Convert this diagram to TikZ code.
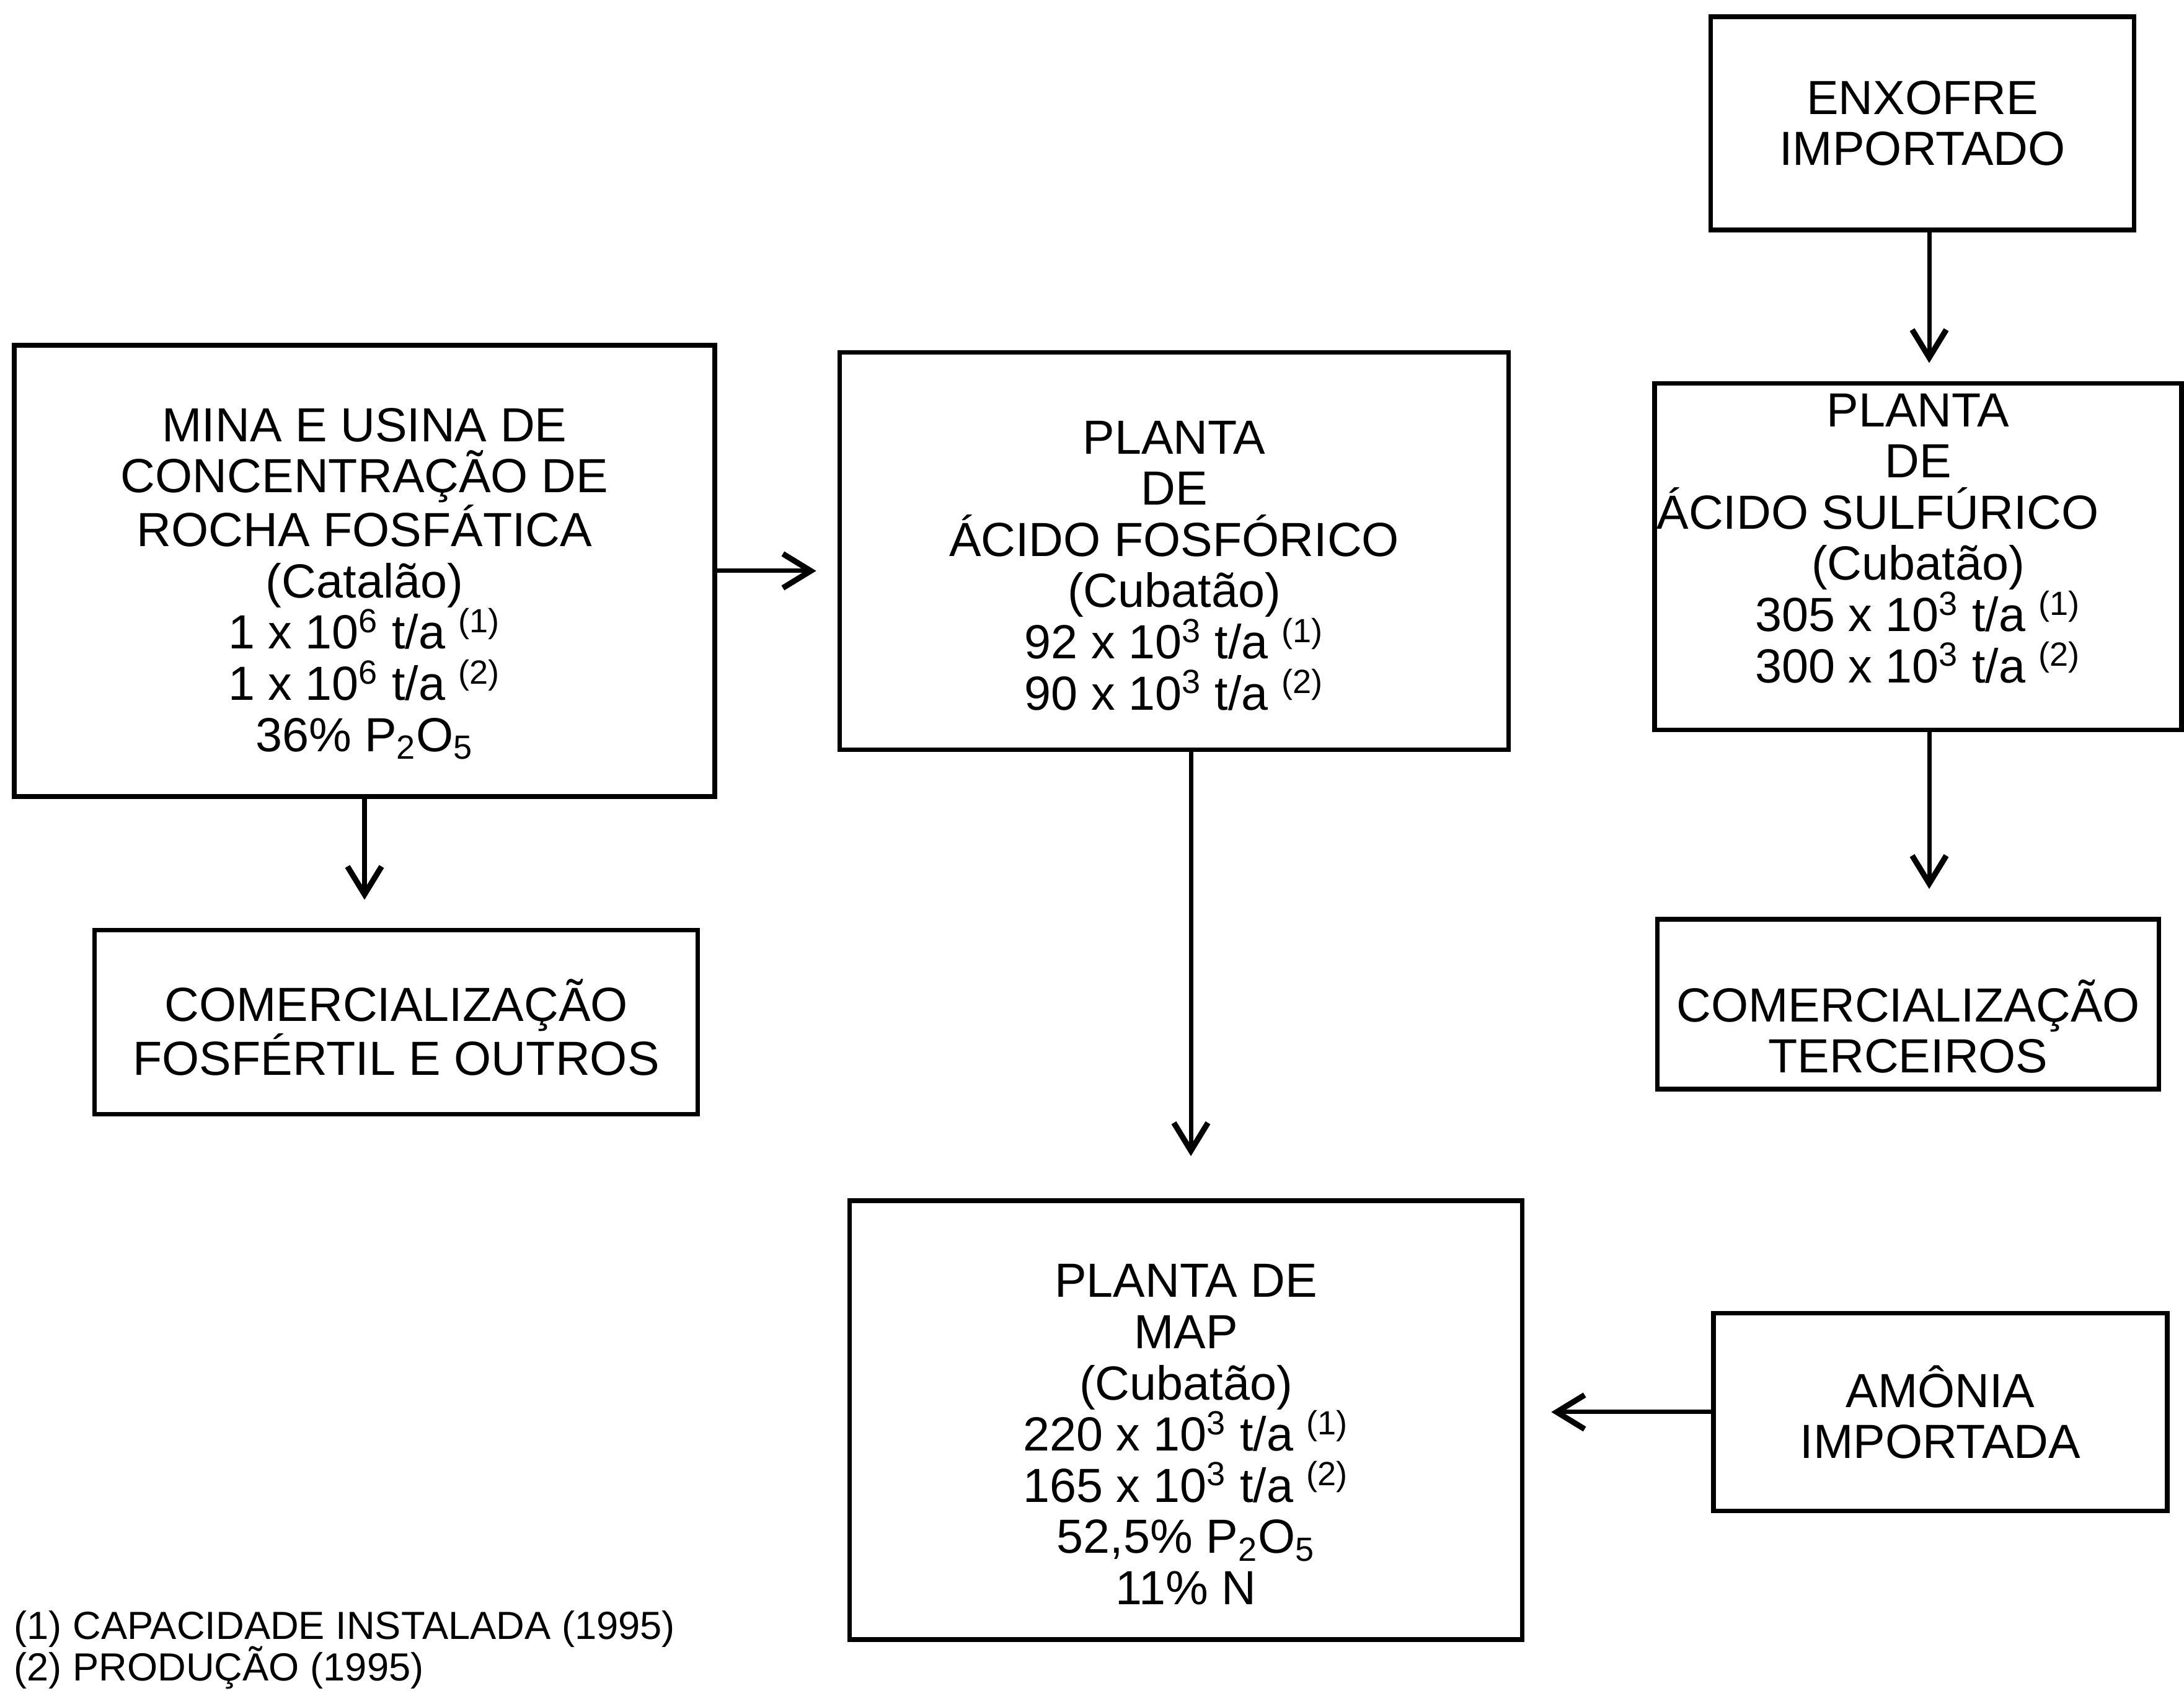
\documentclass[tikz,border=0pt]{standalone}
\usepackage{fontspec}
\setmainfont{Liberation Sans}
\usetikzlibrary{arrows.meta}

\begin{document}
\begin{tikzpicture}[
		box/.style={draw, line width=2.2pt, align=center, inner sep=0pt,
			font=\fontsize{22pt}{23.5pt}\selectfont},
		flow/.style={line width=2pt, -{Straight Barb[length=4.5mm, width=5.5mm, line width=2.6pt]}},
		note/.style={anchor=base west, inner sep=0pt, font=\fontsize{18pt}{19pt}\selectfont}
	]
	\useasboundingbox (0,0) rectangle (35.23,27.28);

	% Nodes
	\node[box, minimum width=11.30cm, minimum height=7.28cm] (mina) at (5.88,18.07)
		{\rule{0pt}{0.95cm}MINA E USINA DE\\CONCENTRAÇÃO DE\\ROCHA FOSFÁTICA\\(Catalão)\\
		1 x 10\textsuperscript{6} t/a \textsuperscript{(1)}\\
		1 x 10\textsuperscript{6} t/a \textsuperscript{(2)}\\
		36\% P\textsubscript{2}O\textsubscript{5}};
	\node[box, minimum width=10.79cm, minimum height=6.41cm] (fosforico) at (18.94,18.39)
		{\rule{0pt}{1.0cm}PLANTA\\DE\\ÁCIDO FOSFÓRICO\\(Cubatão)\\
		92 x 10\textsuperscript{3} t/a \textsuperscript{(1)}\\
		90 x 10\textsuperscript{3} t/a \textsuperscript{(2)}};
	\node[box, minimum width=6.83cm, minimum height=3.44cm] (enxofre) at (31.01,25.29)
		{ENXOFRE\\IMPORTADO};
	\node[box, minimum width=8.50cm, minimum height=5.59cm] (sulfurico) at (30.94,18.30)
		{PLANTA\\DE\\ÁCIDO SULFÚRICO\rule{1.3cm}{0pt}\\(Cubatão)\\
		305 x 10\textsuperscript{3} t/a \textsuperscript{(1)}\\
		300 x 10\textsuperscript{3} t/a \textsuperscript{(2)}\rule[-0.6cm]{0pt}{0.6cm}};
	\node[box, minimum width=9.73cm, minimum height=2.97cm] (comfosfertil) at (6.39,10.79)
		{\rule{0pt}{0.85cm}COMERCIALIZAÇÃO\\FOSFÉRTIL E OUTROS};
	\node[box, minimum width=8.09cm, minimum height=2.74cm] (comterceiros) at (30.78,11.08)
		{\rule{0pt}{1.4cm}COMERCIALIZAÇÃO\\TERCEIROS};
	\node[box, minimum width=10.85cm, minimum height=7.08cm] (map) at (19.13,4.37)
		{\rule{0pt}{1.0cm}PLANTA DE\\MAP\\(Cubatão)\\
		220 x 10\textsuperscript{3} t/a \textsuperscript{(1)}\\
		165 x 10\textsuperscript{3} t/a \textsuperscript{(2)}\\
		52,5\% P\textsubscript{2}O\textsubscript{5}\\11\% N};
	\node[box, minimum width=7.32cm, minimum height=3.19cm] (amonia) at (31.30,4.50)
		{AMÔNIA\\IMPORTADA};

	% Connections
	\draw[flow, shorten >=0.34cm] (mina.east) -- (fosforico.west |- mina.east);
	\draw[flow, shorten >=0.45cm] (mina.south) -- (mina.south |- comfosfertil.north);
	\draw[flow, shorten >=0.29cm] ([xshift=0.11cm]enxofre.south)
		-- ([xshift=0.11cm]enxofre.south |- sulfurico.north);
	\draw[flow, shorten >=0.45cm] ([xshift=0.18cm]sulfurico.south)
		-- ([xshift=0.18cm]sulfurico.south |- comterceiros.north);
	\draw[flow, shorten >=0.68cm] ([xshift=0.27cm]fosforico.south)
		-- ([xshift=0.27cm]fosforico.south |- map.north);
	\draw[flow, shorten >=0.43cm] (amonia.west) -- (map.east |- amonia.west);

	% Footnotes
	\node[note] (nota1) at (0.22,0.83) {(1) CAPACIDADE INSTALADA (1995)};
	\node[note] (nota2) at (0.22,0.16) {(2) PRODUÇÃO (1995)};
\end{tikzpicture}
\end{document}
